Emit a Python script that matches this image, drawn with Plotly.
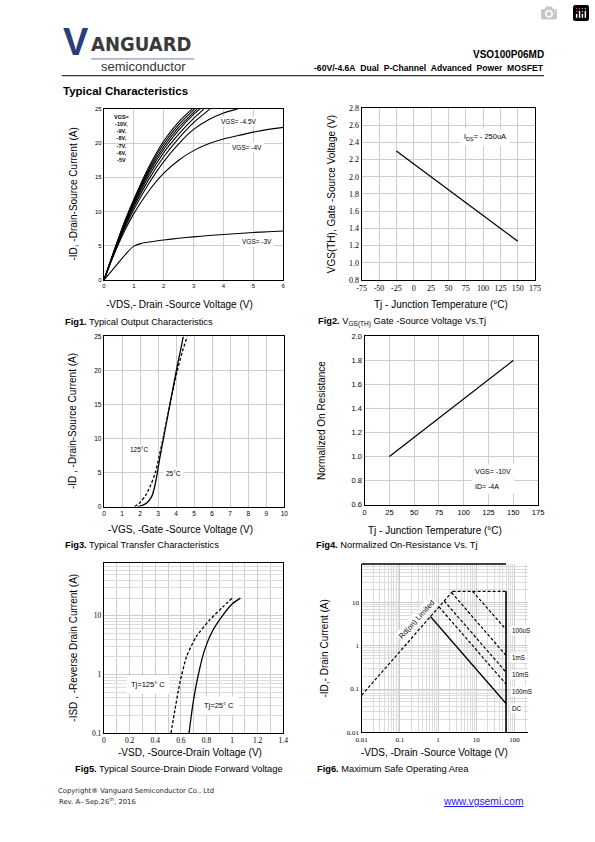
import plotly.graph_objects as go

W, H = 595, 842

# ---------------- Fig1: Typical Output Characteristics ----------------
f1_v_10 = [0, 0.25, 0.5, 0.75, 1, 1.5, 2, 2.5, 2.95]
f1_i_10 = [0, 3.2, 6.3, 9.2, 11.8, 16.5, 20.3, 23.1, 25]
f1_v_9 = [0, 0.25, 0.5, 0.75, 1, 1.5, 2, 2.5, 3.03]
f1_i_9 = [0, 3.15, 6.2, 9.05, 11.6, 16.2, 19.9, 22.7, 25]
f1_v_8 = [0, 0.25, 0.5, 0.75, 1, 1.5, 2, 2.5, 3.12]
f1_i_8 = [0, 3.1, 6.1, 8.9, 11.4, 15.9, 19.5, 22.3, 25]
f1_v_7 = [0, 0.25, 0.5, 0.75, 1, 1.5, 2, 2.5, 3, 3.22]
f1_i_7 = [0, 3.05, 6.0, 8.75, 11.2, 15.6, 19.1, 21.9, 24.2, 25]
f1_v_6 = [0, 0.25, 0.5, 0.75, 1, 1.5, 2, 2.5, 3, 3.35]
f1_i_6 = [0, 3.0, 5.9, 8.6, 11.0, 15.2, 18.6, 21.3, 23.6, 25]
f1_v_5 = [0, 0.25, 0.5, 0.75, 1, 1.5, 2, 2.5, 3, 3.55]
f1_i_5 = [0, 2.95, 5.8, 8.4, 10.7, 14.7, 18.0, 20.7, 23.0, 25]
f1_v_45 = [0, 0.25, 0.5, 0.75, 1, 1.5, 2, 2.5, 3, 3.5, 4, 4.47]
f1_i_45 = [0, 2.9, 5.6, 8.1, 10.3, 14.1, 17.3, 19.9, 22.0, 23.4, 24.4, 25]
f1_v_4 = [0, 0.25, 0.5, 0.75, 1, 1.5, 2, 2.5, 3, 3.5, 4, 4.5, 5, 5.5, 6]
f1_i_4 = [0, 2.8, 5.4, 7.7, 9.7, 13.0, 15.6, 17.5, 18.9, 19.9, 20.6, 21.1, 21.6, 22.0, 22.3]
f1_v_3 = [0, 0.25, 0.5, 0.75, 1, 1.25, 1.5, 2, 2.5, 3, 3.5, 4, 4.5, 5, 5.5, 6]
f1_i_3 = [0, 1.3, 2.6, 3.9, 4.95, 5.35, 5.55, 5.85, 6.1, 6.3, 6.5, 6.65, 6.8, 6.95, 7.05, 7.15]

# ---------------- Fig2: VGS(TH) vs Tj ----------------
f2_tj = [-25, 150]
f2_vth = [2.3, 1.25]

# ---------------- Fig3: Transfer characteristics ----------------
f3_v_25 = [1.85, 2.1, 2.4, 2.65, 2.8, 2.95, 3.1, 3.3, 3.55, 3.8, 4.05, 4.25, 4.4]
f3_i_25 = [0, 0.15, 0.6, 1.5, 2.8, 4.8, 7.2, 10.0, 13.5, 17.0, 20.5, 23.0, 25]
f3_v_125 = [1.7, 2.0, 2.3, 2.6, 2.85, 3.05, 3.3, 3.55, 3.8, 4.05, 4.35, 4.62]
f3_i_125 = [0, 0.6, 1.6, 3.2, 5.0, 7.3, 10.3, 13.6, 16.8, 19.8, 22.8, 25]

# ---------------- Fig4: Normalized on-resistance ----------------
f4_tj = [25, 150]
f4_rn = [1.0, 1.8]

# ---------------- Fig5: Source-drain diode ----------------
f5_v_125 = [0.523, 0.554, 0.592, 0.644, 0.72, 0.823, 0.926, 1.0]
f5_i_125 = [0.1, 0.25, 0.71, 2.0, 4.4, 8.4, 14, 20]
f5_v_25 = [0.664, 0.695, 0.733, 0.785, 0.849, 0.926, 1.002, 1.065]
f5_i_25 = [0.1, 0.32, 0.91, 2.6, 5.6, 10.1, 16, 20]

# ---------------- Fig6: SOA ----------------
f6_rds_v = [0.01, 2.4]
f6_rds_i = [0.072, 18.4]
f6_lim_v = [2.4, 60]
f6_lim_i = [18.4, 18.4]
f6_vmax_v = [60, 60]
f6_vmax_i = [18.4, 0.01]
f6_100us_v = [8.0, 60]
f6_100us_i = [18.4, 2.4]
f6_1ms_v = [2.26, 60]
f6_1ms_i = [17.2, 0.6]
f6_10ms_v = [1.45, 60]
f6_10ms_i = [11.0, 0.245]
f6_100ms_v = [1.06, 60]
f6_100ms_i = [8.0, 0.13]
f6_dc_v = [0.63, 60]
f6_dc_i = [4.8, 0.046]

SANS = "Liberation Sans"
SERIF = "Liberation Serif"
GRID = "#cdcdcd"
MINOR = "#dcdcdc"


def px2x(px):
    return px / W


def px2y(py):
    return 1 - py / H


def dom(x0, x1, y0, y1):
    return [px2x(x0), px2x(x1)], [px2y(y1), px2y(y0)]


fig = go.Figure()


def add(x, y, ax, dash=None, width=1.2, color="black", shape="spline"):
    fig.add_trace(go.Scatter(
        x=x, y=y, mode="lines", xaxis="x" + ax, yaxis="y" + ax,
        line=dict(color=color, width=width, dash=dash, shape=shape,
                  smoothing=0.6),
        hoverinfo="skip", showlegend=False))


# Fig1
for v, i in [(f1_v_10, f1_i_10), (f1_v_9, f1_i_9), (f1_v_8, f1_i_8),
             (f1_v_7, f1_i_7), (f1_v_6, f1_i_6), (f1_v_5, f1_i_5),
             (f1_v_45, f1_i_45), (f1_v_4, f1_i_4), (f1_v_3, f1_i_3)]:
    add(v, i, "1", width=1.1)
# Fig2
add(f2_tj, f2_vth, "2", shape="linear", width=1.3)
# Fig3
add(f3_v_25, f3_i_25, "3", width=1.3)
add(f3_v_125, f3_i_125, "3", dash="3px,2px", width=1.3)
# Fig4
add(f4_tj, f4_rn, "4", shape="linear", width=1.3)
# Fig5
add(f5_v_125, f5_i_125, "5", dash="3px,2px", width=1.3)
add(f5_v_25, f5_i_25, "5", width=1.3)
# Fig6
DS = "3px,2px"
add(f6_rds_v, f6_rds_i, "6", dash=DS, shape="linear")
add(f6_lim_v, f6_lim_i, "6", dash=DS, shape="linear")
add(f6_vmax_v, f6_vmax_i, "6", width=1.6, shape="linear")
add(f6_100us_v, f6_100us_i, "6", dash=DS, shape="linear")
add(f6_1ms_v, f6_1ms_i, "6", dash=DS, shape="linear")
add(f6_10ms_v, f6_10ms_i, "6", dash=DS, shape="linear")
add(f6_100ms_v, f6_100ms_i, "6", dash=DS, shape="linear")
add(f6_dc_v, f6_dc_i, "6", shape="linear", width=1.3)


def axis(domain, rng, anchor, dtick=None, tickfont=6, family=SANS,
         typ="linear", mirror=True, tickvals=None, ticktext=None,
         tickformat=None, minor=None, lw=1.4):
    d = dict(domain=domain, range=rng, anchor=anchor, type=typ,
             showline=True, linecolor="black", linewidth=lw, mirror=mirror,
             showgrid=True, gridcolor=GRID, gridwidth=0.8, zeroline=False,
             ticks="", tickfont=dict(family=family, size=tickfont,
                                     color="black"),
             fixedrange=True, layer="above traces")
    if dtick is not None:
        d["dtick"] = dtick
    if tickvals is not None:
        d["tickmode"] = "array"
        d["tickvals"] = tickvals
        d["ticktext"] = ticktext
    if tickformat:
        d["tickformat"] = tickformat
    if minor:
        d["minor"] = minor
    return d


lay = {}
# Fig1
xd, yd = dom(100, 283, 106, 279)
lay["xaxis"] = axis(xd, [0, 6], "y", dtick=1, tickfont=6)
lay["yaxis"] = axis(yd, [0, 25], "x", dtick=5, tickfont=6)
# Fig2
xd, yd = dom(363, 540, 105, 279)
t2 = [-75, -50, -25, 0, 25, 50, 75, 100, 125, 150, 175]
lay["xaxis2"] = axis(xd, [-75, 175], "y2", tickfont=8, family=SERIF,
                     tickvals=t2, ticktext=[str(t) for t in t2])
lay["yaxis2"] = axis(yd, [0.8, 2.8], "x2", dtick=0.2, tickfont=8,
                     family=SERIF, tickformat=".1f")
# Fig3
xd, yd = dom(100, 284, 336, 508)
lay["xaxis3"] = axis(xd, [0, 10], "y3", dtick=1, tickfont=6.5)
lay["yaxis3"] = axis(yd, [0, 25], "x3", dtick=5, tickfont=6.5)
# Fig4
xd, yd = dom(366, 543, 336, 506)
lay["xaxis4"] = axis(xd, [0, 175], "y4", dtick=25, tickfont=7.5)
lay["yaxis4"] = axis(yd, [0.6, 2.0], "x4", dtick=0.2, tickfont=7.5,
                     tickformat=".1f")
# Fig5
xd, yd = dom(100, 283, 565, 737)
lay["xaxis5"] = axis(xd, [0, 1.4], "y5", dtick=0.2, tickfont=7.5,
                     family=SERIF,
                     minor=dict(dtick=0.1, showgrid=True, gridcolor=GRID,
                                gridwidth=0.8, ticks=""))
lay["yaxis5"] = axis(yd, [-1, 1.9], "x5", typ="log", tickfont=7.5,
                     family=SERIF, tickvals=[0.1, 1, 10],
                     ticktext=["0.1", "1", "10"],
                     minor=dict(dtick="D1", showgrid=True, gridcolor=MINOR,
                                gridwidth=0.8, ticks=""))
# Fig6
xd, yd = dom(363, 533, 566, 736)
lay["xaxis6"] = axis(xd, [-2, 2.36], "y6", typ="log", tickfont=7,
                     family=SERIF, mirror=False,
                     tickvals=[0.01, 0.1, 1, 10, 100],
                     ticktext=["0.01", "0.1", "1", "10", "100"],
                     minor=dict(dtick="D1", showgrid=True, gridcolor=MINOR,
                                gridwidth=0.7, ticks=""))
lay["yaxis6"] = axis(yd, [-2, 1.9], "x6", typ="log", tickfont=7,
                     family=SERIF, mirror=False,
                     tickvals=[0.01, 0.1, 1, 10],
                     ticktext=["0.01", "0.1", "1", "10"],
                     minor=dict(dtick="D1", showgrid=True, gridcolor=MINOR,
                                gridwidth=0.7, ticks=""))

anns = []


def A(x, y, text, size=10, xanchor="left", yanchor="middle", color="black",
      family=SANS, angle=0, bg=None, pad=1):
    d = dict(x=px2x(x), y=px2y(y), xref="paper", yref="paper", text=text,
             showarrow=False, xanchor=xanchor, yanchor=yanchor,
             textangle=angle, font=dict(family=family, size=size, color=color),
             borderpad=pad)
    if bg:
        d["bgcolor"] = bg
    anns.append(d)


# Header
LOGO_FONT = "Liberation Sans Narrow, DejaVu Sans Condensed, Liberation Sans"
A(56, 38, "<b>V</b>", size=38, color="#27407c", family=SANS)
A(85, 40, "<b>ANGUARD</b>", size=20, color="#3a3a3a", family=LOGO_FONT)
A(95, 63, "semiconductor", size=13, color="#333333")
A(551, 51, "<b>VSO100P06MD</b>", size=10, xanchor="right")
A(551, 65, "<b>-60V/-4.6A\u00a0 Dual\u00a0 P-Channel\u00a0 Advanced\u00a0 Power\u00a0 MOSFET</b>",
  size=8.6, xanchor="right")
A(56, 88, "<b>Typical Characteristics</b>", size=11.5)

# Axis titles
TS = 10
A(177, 304, "-VDS,- Drain -Source Voltage (V)", size=TS, xanchor="center")
A(69, 192, "-ID, -Drain-Source Current (A)", size=TS, xanchor="center",
  yanchor="middle", angle=-90)
A(444, 304, "Tj - Junction Temperature (\u00b0C)", size=TS, xanchor="center")
A(333, 192, "VGS(TH), Gate -Source Voltage (V)", size=TS, xanchor="center",
  angle=-90)
A(178, 531, "-VGS, -Gate -Source Voltage (V)", size=TS, xanchor="center")
A(68, 422, "-ID , -Drain-Source Current (A)", size=TS, xanchor="center",
  angle=-90)
A(438, 532, "Tj - Junction Temperature (\u00b0C)", size=TS, xanchor="center")
A(322, 421, "Normalized On Resistance", size=TS, xanchor="center", angle=-90)
A(188, 757, "-VSD, -Source-Drain Voltage (V)", size=TS, xanchor="center")
A(68, 651, "-ISD , -Reverse Drain Current (A)", size=TS, xanchor="center",
  angle=-90)
A(437, 757, "-VDS, -Drain -Source Voltage (V)", size=TS, xanchor="center")
A(325, 651, "-ID,- Drain Current (A)", size=TS, xanchor="center", angle=-90)

# Captions
CS = 9.3
A(58, 321, "<b>Fig1.</b> Typical Output Characteristics", size=CS)
A(316, 321, "<b>Fig2.</b> V<sub>GS(TH)</sub> Gate -Source Voltage Vs.Tj", size=CS)
A(58, 547, "<b>Fig3.</b> Typical Transfer Characteristics", size=CS)
A(314, 547, "<b>Fig4.</b> Normalized On-Resistance Vs. Tj", size=CS)
A(68, 773, "<b>Fig5.</b> Typical Source-Drain Diode Forward Voltage", size=CS)
A(315, 773, "<b>Fig6.</b> Maximum Safe Operating Area", size=CS)

# Fig1 labels
A(108, 136, "<b>VGS=<br>-10V,<br>-9V,<br>-8V,<br>-7V,<br>-6V,<br>-5V</b>",
  size=5.5)
A(217, 119, "VGS= -4.5V", size=6.5, bg="white")
A(229, 145, "VGS= -4V", size=6.5, bg="white")
A(239, 240, "VGS= -3V", size=6.5, bg="white")

# Fig2 label
A(463, 134, "I<sub>DS</sub>= - 250uA", size=7.5, bg="white", pad=3)

# Fig3 labels
A(125, 450, "125\u00b0C", size=6.5, bg="white")
A(160, 475, "25\u00b0C", size=6.5, bg="white", pad=2)

# Fig4 labels
A(475, 473, "VGS= -10V", size=7, bg="white", pad=3)
A(475, 488, "ID= -4A\u00a0\u00a0\u00a0\u00a0\u00a0\u00a0", size=7, bg="white", pad=3)

# Fig5 labels
A(122, 688, "Tj=125\u00b0 C", size=7.5, bg="white", pad=4)
A(197, 709, "Tj=25\u00b0 C", size=7.5, bg="white", pad=4)

# Fig6 labels
A(419, 622, "Rd(on) Limited", size=7.5, xanchor="center", angle=-48,
  bg="white")
A(514, 633, "100uS", size=6.3, bg="white")
A(514, 661, "1mS", size=6.3, bg="white")
A(514, 678, "10mS", size=6.3, bg="white")
A(514, 695, "100mS", size=6.3, bg="white")
A(514, 712, "DC", size=6.3, bg="white")

# Footer
A(51, 796, "Copyright\u00ae Vanguard Semiconductor Co., Ltd", size=6.8,
  family="DejaVu Sans", color="#222222")
A(52, 806, "Rev. A\u2013 Sep.26<sup>th</sup>, 2016", size=6.8,
  family="DejaVu Sans", color="#222222")
A(444, 806, "<u>www.vgsemi.com</u>", size=10.3, color="#1a1aff")

shapes = [
    # header rule
    dict(type="line", xref="paper", yref="paper", x0=px2x(57), x1=px2x(549),
         y0=px2y(72.5), y1=px2y(72.5), line=dict(color="black", width=1)),
    # logo underline
    dict(type="line", xref="paper", yref="paper", x0=px2x(87), x1=px2x(192),
         y0=px2y(55.5), y1=px2y(55.5), line=dict(color="#7080b0", width=1)),
    # Fig6 top frame up to 60 V
    dict(type="line", xref="x6", yref="paper", x0=0.01, x1=60,
         y0=px2y(566), y1=px2y(566), line=dict(color="black", width=1.4)),
]

fig.update_layout(
    width=W, height=H, margin=dict(l=0, r=0, t=0, b=0),
    paper_bgcolor="white", plot_bgcolor="white", showlegend=False,
    annotations=anns, shapes=shapes, **lay)

fig.write_html("out.html", post_script="document.body.style.margin='0px';")
